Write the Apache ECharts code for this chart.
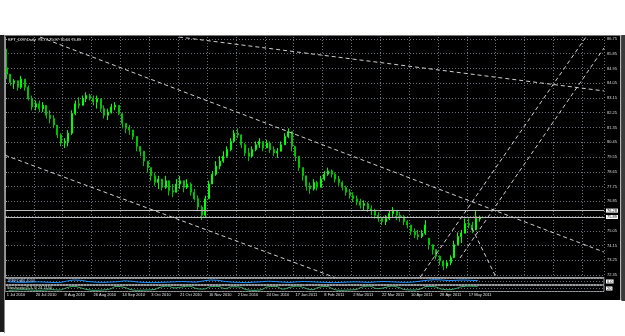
<!DOCTYPE html>
<html>
<head>
<meta charset="utf-8">
<script src="https://cdn.jsdelivr.net/npm/echarts@6/dist/echarts.min.js"></script>
<style>
  html, body { margin: 0; padding: 0; background: #fff; }
  #chart { width: 625px; height: 336px; }
</style>
</head>
<body>
<div id="chart"></div>
<script>
// one date label every 8 bars
var dateLabels = ['1 Jul 2010', '20 Jul 2010', '8 Aug 2010', '26 Aug 2010', '14 Sep 2010', '3 Oct 2010',
  '21 Oct 2010', '10 Nov 2010', '2 Dec 2010', '24 Dec 2010', '17 Jan 2011', '8 Feb 2011',
  '2 Mar 2011', '22 Mar 2011', '10 Apr 2011', '28 Apr 2011', '17 May 2011'];
var labelEvery = 8;
var totalSlots = 166; // bars + empty space on the right

// bars: [open, close, low, high]
var candles = [
  [85.0, 84.6, 84.3, 86.15], [84.6, 84.1, 83.9, 84.6], [84.1, 84.2, 83.7, 84.3], [84.2, 83.8, 83.6, 84.2],
  [83.8, 84.3, 83.7, 84.5], [84.3, 83.8, 83.6, 84.3], [83.8, 83.1, 83.0, 83.9], [83.1, 82.6, 82.4, 83.3],
  [82.6, 82.8, 82.4, 83.0], [82.8, 82.5, 82.3, 83.0], [82.5, 82.7, 82.3, 82.9], [82.7, 82.1, 81.9, 82.7],
  [82.1, 81.9, 81.6, 82.4], [81.9, 81.5, 81.3, 82.1], [81.5, 80.9, 80.7, 81.5], [80.9, 80.4, 80.2, 81.0],
  [80.4, 80.5, 80.1, 80.7], [80.5, 81.0, 80.2, 81.2], [81.0, 82.2, 80.9, 82.4], [82.2, 82.8, 82.1, 83.0],
  [82.8, 82.7, 82.5, 83.2], [82.7, 83.1, 82.7, 83.3], [83.1, 83.3, 82.9, 83.5], [83.3, 83.1, 83.0, 83.4],
  [83.1, 82.9, 82.7, 83.3], [82.9, 83.1, 82.5, 83.3], [83.1, 82.5, 82.3, 83.1], [82.5, 82.1, 81.9, 82.7],
  [82.1, 82.3, 81.8, 82.5], [82.3, 82.6, 82.2, 82.8], [82.6, 82.7, 82.4, 82.9], [82.7, 82.2, 82.1, 82.7],
  [82.2, 81.6, 81.3, 82.2], [81.6, 81.3, 81.0, 81.6], [81.3, 81.2, 80.9, 81.5], [81.2, 80.8, 80.6, 81.2],
  [80.8, 80.2, 79.9, 80.8], [80.2, 79.9, 79.6, 80.2], [79.9, 79.3, 79.0, 79.9], [79.3, 78.9, 78.6, 79.3],
  [78.9, 78.4, 78.1, 78.9], [78.4, 78.0, 77.8, 78.6], [78.0, 78.2, 77.6, 78.4], [78.2, 77.7, 77.5, 78.2],
  [77.7, 78.1, 77.6, 78.4], [78.1, 77.5, 77.2, 78.1], [77.5, 77.4, 77.1, 77.9], [77.4, 77.9, 77.4, 78.2],
  [77.9, 78.1, 77.6, 78.4], [78.1, 77.7, 77.4, 78.1], [77.7, 77.9, 77.6, 78.2], [77.9, 77.4, 77.2, 78.0],
  [77.4, 77.0, 76.9, 77.6], [77.0, 76.5, 76.3, 77.2], [76.5, 76.0, 75.7, 76.6], [76.0, 77.0, 75.9, 77.2],
  [77.0, 77.9, 77.0, 78.1], [77.9, 78.5, 77.9, 78.7], [78.5, 79.0, 78.4, 79.3], [79.0, 79.3, 78.8, 79.6],
  [79.3, 79.6, 79.2, 79.9], [79.6, 80.0, 79.5, 80.2], [80.0, 80.5, 79.9, 80.7], [80.5, 81.0, 80.4, 81.2],
  [81.0, 80.9, 80.7, 81.3], [80.9, 80.3, 80.1, 80.9], [80.3, 79.8, 79.6, 80.4], [79.8, 79.6, 79.3, 80.1],
  [79.6, 80.0, 79.5, 80.2], [80.0, 80.3, 79.9, 80.5], [80.3, 80.5, 80.1, 80.7], [80.5, 80.1, 79.9, 80.5],
  [80.1, 80.4, 80.1, 80.6], [80.4, 80.0, 79.8, 80.5], [80.0, 79.8, 79.6, 80.2], [79.8, 79.9, 79.5, 80.1],
  [79.9, 80.3, 79.9, 80.5], [80.3, 80.8, 80.3, 81.0], [80.8, 81.1, 80.7, 81.3], [81.1, 80.2, 79.9, 81.1],
  [80.2, 79.6, 79.3, 80.2], [79.6, 78.9, 78.7, 79.6], [78.9, 78.4, 78.1, 78.9], [78.4, 77.8, 77.5, 78.4],
  [77.8, 77.6, 77.3, 78.0], [77.6, 78.0, 77.5, 78.2], [78.0, 77.7, 77.5, 78.1], [77.7, 78.2, 77.7, 78.4],
  [78.2, 78.5, 78.1, 78.7], [78.5, 78.7, 78.4, 78.9], [78.7, 78.5, 78.3, 78.8], [78.5, 78.2, 78.0, 78.6],
  [78.2, 78.0, 77.8, 78.4], [78.0, 77.7, 77.5, 78.1], [77.7, 77.4, 77.2, 77.8], [77.4, 77.2, 77.0, 77.6],
  [77.2, 77.0, 76.8, 77.4], [77.0, 76.8, 76.6, 77.2], [76.8, 76.6, 76.4, 77.0], [76.6, 76.7, 76.3, 76.9],
  [76.7, 76.4, 76.2, 76.8], [76.4, 76.3, 76.0, 76.6], [76.3, 76.0, 75.8, 76.4], [76.0, 75.8, 75.6, 76.2],
  [75.8, 75.6, 75.4, 75.9], [75.6, 75.8, 75.4, 76.0], [75.8, 76.1, 75.7, 76.3], [76.1, 76.3, 75.9, 76.5],
  [76.3, 76.0, 75.7, 76.3], [76.0, 75.9, 75.6, 76.2], [75.9, 75.6, 75.4, 76.0], [75.6, 75.4, 75.2, 75.7],
  [75.4, 75.0, 74.8, 75.4], [75.0, 74.8, 74.6, 75.2], [74.8, 74.7, 74.5, 75.1], [74.7, 74.9, 74.6, 75.1],
  [74.9, 75.4, 74.8, 75.7], [74.6, 74.2, 73.9, 74.6], [74.2, 73.9, 73.6, 74.2], [73.9, 73.5, 73.3, 73.9],
  [73.5, 73.2, 72.95, 73.55], [73.2, 72.9, 72.65, 73.25], [72.9, 73.1, 72.75, 73.25], [73.1, 73.4, 72.95, 73.55],
  [73.4, 74.2, 73.4, 74.45], [74.2, 74.7, 74.15, 74.95], [74.7, 74.9, 74.3, 75.1], [74.9, 75.5, 74.9, 75.8],
  [75.5, 75.4, 75.2, 75.8], [75.4, 75.1, 74.9, 75.6], [75.1, 75.8, 75.1, 76.3], [75.77, 75.89, 75.61, 75.97]
];

var priceTicks = [86.75, 85.85, 84.95, 84.05, 83.15, 82.25, 81.35, 80.45, 79.55, 78.65, 77.75, 76.85, 75.95, 75.05, 74.15, 73.25, 72.35];
var hiddenTickLabels = [75.95];
var hLines = [76.28, 75.89];

// trendlines as [[barPosition, price], [barPosition, price]]
var trendLines = [
  [[9.7, 86.87], [166, 73.75]],
  [[48.2, 86.87], [166, 83.58]],
  [[0, 79.66], [100, 71.5]],
  [[115.1, 72.23], [161.0, 86.87]],
  [[126.1, 73.39], [166, 86.2]],
  [[129.4, 75.22], [137, 71.8]]
];

// sub-window indicators, one value per 2 bars (0..100 scale)
var blueLine = [45, 40, 35, 40, 45, 40, 35, 30, 55, 75, 70, 50, 40, 35, 40, 45, 60, 55, 40, 35,
  30, 35, 40, 45, 50, 45, 40, 60, 75, 70, 50, 40, 35, 30, 40, 45, 55, 50, 40, 35,
  45, 50, 45, 40, 35, 30, 35, 40, 45, 40, 35, 45, 50, 45, 40, 35, 40, 55, 70, 80,
  75, 65, 70, 75, 70, 65];
var greenLine = [20, 25, 30, 25, 20, 25, 30, 25, 60, 85, 60, 30, 20, 25, 40, 85, 70, 30, 20, 25,
  30, 70, 90, 60, 75, 90, 50, 40, 80, 85, 50, 80, 75, 30, 20, 30, 80, 85, 40, 70,
  90, 60, 30, 70, 85, 40, 20, 25, 30, 75, 90, 50, 60, 90, 70, 30, 25, 40, 85, 80,
  40, 30, 50, 85, 90, 80];

var titleText = 'SPT_DXY,Daily  75.77 75.97 75.61 75.89';
var panel1Text = 'JPEFDAN 4000';
var panel2Text = 'Stochastic(5,3,3) 24.1150';

var font = 'Liberation Sans';
var gridColor = '#69727c';
var small = 4;

var slots = [];
for (var i = 0; i < totalSlots; i++) slots.push(String(i));
var subSlots = [];
for (var j = 0; j < totalSlots / 2; j++) subSlots.push(String(j));

var chart = echarts.init(document.getElementById('chart'));

var trendSeries = trendLines.map(function (pts) {
  return {
    type: 'line', xAxisIndex: 1, yAxisIndex: 0, data: pts,
    showSymbol: false, silent: true, clip: true,
    lineStyle: { color: '#cfcfcf', width: 1, type: [4, 3] }
  };
});

function titleStyle(color) {
  return { color: color, fontSize: small, fontWeight: 'normal', fontFamily: font };
}

chart.setOption({
  animation: false,
  backgroundColor: '#000',
  title: [
    { text: titleText, left: 8, top: 38, padding: 0, textStyle: titleStyle('#e8e8e8') },
    { text: panel1Text, left: 7, top: 279, padding: 0, textStyle: titleStyle('#9cc8ff') },
    { text: panel2Text, left: 7, top: 286, padding: 0, textStyle: titleStyle('#bfe6c8') }
  ],
  graphic: [
    { type: 'rect', shape: { x: 0, y: 0, width: 625, height: 35 }, style: { fill: '#fff' } },
    { type: 'rect', shape: { x: 0, y: 300, width: 625, height: 36 }, style: { fill: '#fff' } },
    { type: 'rect', shape: { x: 0, y: 35, width: 625, height: 1 }, style: { fill: '#7a7a7a' } },
    { type: 'rect', shape: { x: 0, y: 35, width: 4, height: 297 }, style: { fill: '#1c1c1c' } },
    { type: 'rect', shape: { x: 4, y: 35, width: 1, height: 298 }, style: { fill: '#8a8a8a' } },
    { type: 'rect', shape: { x: 620, y: 35, width: 1.5, height: 265 }, style: { fill: '#b4b4b4' } },
    { type: 'rect', shape: { x: 621.5, y: 35, width: 3.5, height: 266 }, style: { fill: '#3a3a3a' } }
  ],
  grid: [
    { left: 5, top: 37, width: 599, height: 240 },
    { left: 5, top: 278.5, width: 599, height: 6, show: true, borderColor: '#9a9a9a', borderWidth: 1 },
    { left: 5, top: 285.5, width: 599, height: 6, show: true, borderColor: '#9a9a9a', borderWidth: 1 }
  ],
  xAxis: [
    {
      type: 'category', gridIndex: 0, data: slots, boundaryGap: true,
      axisLine: { show: true, lineStyle: { color: '#9a9a9a' } },
      axisTick: { show: false },
      axisLabel: {
        interval: function (idx) { return idx % labelEvery === 0 && idx / labelEvery < dateLabels.length; },
        formatter: function (v, idx) { return dateLabels[idx / labelEvery] || ''; },
        align: 'left', margin: 16, color: '#e6e6e6', fontSize: small, fontFamily: font
      },
      splitLine: {
        show: true,
        interval: function (idx) { return idx % labelEvery === 0; },
        lineStyle: { color: gridColor, type: [1, 2] }
      }
    },
    { type: 'value', gridIndex: 0, min: 0, max: totalSlots, show: false },
    { type: 'category', gridIndex: 1, data: subSlots, show: false },
    { type: 'category', gridIndex: 2, data: subSlots, show: false }
  ],
  yAxis: [
    {
      type: 'value', gridIndex: 0, position: 'right', min: 72.23, max: 86.87, scale: true,
      axisLine: { show: true, lineStyle: { color: '#9a9a9a' } },
      axisTick: { show: true, length: 2, customValues: priceTicks, lineStyle: { color: '#9a9a9a' } },
      axisLabel: {
        customValues: priceTicks.filter(function (v) { return hiddenTickLabels.indexOf(v) < 0; }),
        formatter: function (v) { return v.toFixed(2); },
        color: '#dcdcdc', fontSize: small, fontFamily: font, margin: 3
      },
      splitLine: { show: true, lineStyle: { color: gridColor, type: [1, 2] } }
    },
    {
      type: 'value', gridIndex: 1, position: 'right', min: 0, max: 100, interval: 50,
      axisLine: { show: false }, axisTick: { show: false },
      axisLabel: { customValues: [50], formatter: function () { return '0.0'; }, color: '#000', backgroundColor: '#fff', fontSize: small, padding: [0, 1], margin: 2, fontFamily: font },
      splitLine: { show: true, lineStyle: { color: gridColor, type: [1, 2] } }
    },
    {
      type: 'value', gridIndex: 2, position: 'right', min: 0, max: 100, interval: 50,
      axisLine: { show: false }, axisTick: { show: false },
      axisLabel: { customValues: [50], formatter: function () { return '20'; }, color: '#000', backgroundColor: '#fff', fontSize: small, padding: [0, 1], margin: 2, fontFamily: font },
      splitLine: { show: true, lineStyle: { color: gridColor, type: [1, 2] } }
    }
  ],
  series: [
    {
      type: 'candlestick', xAxisIndex: 0, yAxisIndex: 0, data: candles, barWidth: 1.5,
      itemStyle: { color: '#00ff00', color0: '#00c400', borderColor: '#00ff00', borderColor0: '#00c400', borderWidth: 1 },
      markLine: {
        silent: true, symbol: ['none', 'none'],
        data: hLines.map(function (v) { return { yAxis: v }; }),
        lineStyle: { color: '#bdbdbd', type: 'solid', width: 1 },
        label: {
          position: 'end', distance: 2,
          formatter: function (p) { return p.value.toFixed(2); },
          backgroundColor: '#fff', color: '#000', fontSize: small, padding: [0, 1], fontFamily: font
        }
      }
    },
    {
      type: 'line', xAxisIndex: 2, yAxisIndex: 1, data: blueLine, showSymbol: false, silent: true,
      lineStyle: { color: '#1e90ff', width: 1 }
    },
    {
      type: 'line', xAxisIndex: 3, yAxisIndex: 2, data: greenLine, showSymbol: false, silent: true, smooth: true,
      lineStyle: { color: '#3cb371', width: 1 }
    }
  ].concat(trendSeries)
});
</script>
</body>
</html>
